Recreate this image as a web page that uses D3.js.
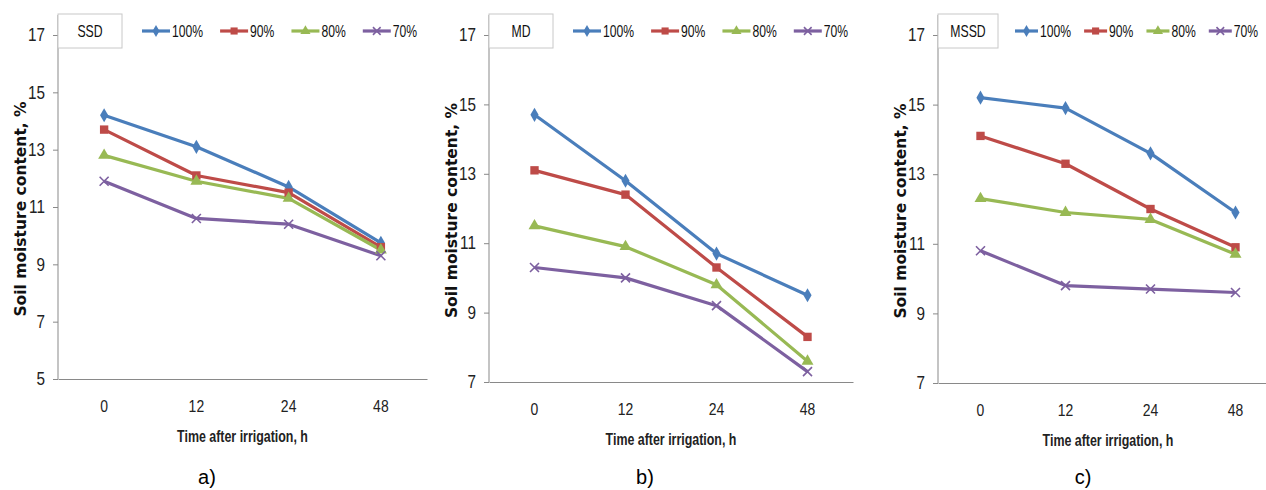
<!DOCTYPE html>
<html lang="en">
  <head>
    <meta charset="utf-8">
    <script src="https://d3js.org/d3.v7.min.js"></script>
    <style>
      body { margin: 0; background: #fff; }
      svg { display: block; }
    </style>
  </head>
  <body>
    <svg width="1266" height="490"></svg>
    <script>
      // categories and series
      var hours = ["0", "12", "24", "48"];
      var seriesNames = ["100%", "90%", "80%", "70%"];
      var panelNames = ["SSD", "MD", "MSSD"];
      var panelTags = ["a)", "b)", "c)"];

      // a) SSD
      var ssd100 = [14.2, 13.1, 11.7, 9.75];
      var ssd90 = [13.7, 12.1, 11.5, 9.6];
      var ssd80 = [12.8, 11.9, 11.3, 9.5];
      var ssd70 = [11.9, 10.6, 10.4, 9.3];
      // b) MD
      var md100 = [14.7, 12.8, 10.7, 9.5];
      var md90 = [13.1, 12.4, 10.3, 8.3];
      var md80 = [11.5, 10.9, 9.8, 7.6];
      var md70 = [10.3, 10.0, 9.2, 7.3];
      // c) MSSD
      var mssd100 = [15.2, 14.9, 13.6, 11.9];
      var mssd90 = [14.1, 13.3, 12.0, 10.9];
      var mssd80 = [12.3, 11.9, 11.7, 10.7];
      var mssd70 = [10.8, 9.8, 9.7, 9.6];

      var yMins = [5, 7, 7];
      var yMax = 17;

      var colors = ["#4a7ebb", "#be4b48", "#98b954", "#7d60a0"];
      var shapes = ["diamond", "square", "triangle", "cross"];

      // plot boxes of the three panels
      var layouts = [
        {left: 58, right: 427, top: 35, bottom: 379, boxW: 64, keyStart: 20, keyLine: 28, keyGap: 17, tagX: 207},
        {left: 489, right: 853, top: 35, bottom: 382, boxW: 64, keyStart: 20, keyLine: 28, keyGap: 17, tagX: 645},
        {left: 938, right: 1278, top: 35, bottom: 383, boxW: 60, keyStart: 17, keyLine: 23, keyGap: 13, tagX: 1083}
      ];

      var panels = [
        [ssd100, ssd90, ssd80, ssd70],
        [md100, md90, md80, md70],
        [mssd100, mssd90, mssd80, mssd70]
      ];

      var sans = "'Liberation Sans', Arial, sans-serif";
      var axisGrey = "#898989";

      var svg = d3.select("svg");

      // narrow the type a bit, the original uses a condensed face
      function squeeze(sel, k) {
        sel.each(function() {
          var w = this.getComputedTextLength();
          d3.select(this)
            .attr("textLength", w * k)
            .attr("lengthAdjust", "spacingAndGlyphs");
        });
      }

      function marker(g, shape, color, cx, cy, s) {
        if (shape == "cross") {
          var h = 4.5 * s;
          g.append("path")
            .attr("d", "M" + (cx - h) + "," + (cy - h) + "L" + (cx + h) + "," + (cy + h) +
                       "M" + (cx - h) + "," + (cy + h) + "L" + (cx + h) + "," + (cy - h))
            .attr("stroke", color)
            .attr("stroke-width", 1.6)
            .attr("fill", "none");
          return;
        }
        var type = shape == "diamond" ? d3.symbolDiamond
                 : shape == "square" ? d3.symbolSquare : d3.symbolTriangle;
        var size = shape == "diamond" ? 58 : shape == "square" ? 70 : 62;
        g.append("path")
          .attr("d", d3.symbol().type(type).size(size * s * s)())
          .attr("transform", "translate(" + cx + "," + cy + ")")
          .attr("fill", color);
      }

      panels.forEach(function(series, p) {
        var L = layouts[p];
        var g = svg.append("g");

        var x = d3.scaleBand()
          .domain(hours)
          .range([L.left, L.right]);

        var y = d3.scaleLinear()
          .domain([yMins[p], yMax])
          .range([L.bottom, L.top]);

        // y axis
        var yAxis = g.append("g")
          .attr("transform", "translate(" + L.left + ",0)")
          .call(d3.axisLeft(y)
            .tickValues(d3.range(yMins[p], yMax + 1, 2))
            .tickSize(5)
            .tickSizeOuter(0)
            .tickPadding(8));
        yAxis.select(".domain").remove();
        yAxis.selectAll(".tick line").attr("stroke", axisGrey);
        yAxis.selectAll(".tick text")
          .style("font-family", sans)
          .style("font-size", "18px")
          .attr("fill", "#222")
          .call(squeeze, 0.85);
        g.append("line")
          .attr("x1", L.left).attr("x2", L.left)
          .attr("y1", L.top - 20).attr("y2", L.bottom)
          .attr("stroke", axisGrey);

        // x axis
        var xAxis = g.append("g")
          .attr("transform", "translate(0," + L.bottom + ")")
          .call(d3.axisBottom(x)
            .tickSize(0)
            .tickSizeOuter(0)
            .tickPadding(21));
        xAxis.select(".domain").attr("stroke", axisGrey);
        xAxis.selectAll(".tick text")
          .style("font-family", sans)
          .style("font-size", "17px")
          .attr("fill", "#222")
          .call(squeeze, 0.82);

        // axis titles
        g.append("text")
          .attr("x", (L.left + L.right) / 2)
          .attr("y", L.bottom + 63)
          .attr("text-anchor", "middle")
          .style("font-family", sans)
          .style("font-size", "17px")
          .style("font-weight", "bold")
          .attr("fill", "#222")
          .text("Time after irrigation, h")
          .call(squeeze, 0.73);

        g.append("text")
          .attr("transform", "translate(" + (L.left - 32) + "," + ((L.top + L.bottom) / 2 + 2) + ") rotate(-90)")
          .attr("text-anchor", "middle")
          .style("font-family", "'DejaVu Sans', Verdana, sans-serif")
          .style("font-size", "15.5px")
          .style("font-weight", "bold")
          .attr("fill", "#111")
          .text("Soil moisture content, %");

        // lines and markers
        var line = d3.line()
          .x(function(d, i) { return x(hours[i]) + x.bandwidth() / 2; })
          .y(function(d) { return y(d); });

        series.forEach(function(vals, s) {
          g.append("path")
            .datum(vals)
            .attr("d", line)
            .attr("fill", "none")
            .attr("stroke", colors[s])
            .attr("stroke-width", 3.2)
            .attr("stroke-linejoin", "round");
        });
        series.forEach(function(vals, s) {
          vals.forEach(function(v, i) {
            marker(g, shapes[s], colors[s], x(hours[i]) + x.bandwidth() / 2, y(v), 1);
          });
        });

        // panel name box
        g.append("rect")
          .attr("x", L.left)
          .attr("y", 14)
          .attr("width", L.boxW)
          .attr("height", 34)
          .attr("fill", "#fff")
          .attr("stroke", "#c8c8c8");
        g.append("text")
          .attr("x", L.left + L.boxW / 2)
          .attr("y", 31)
          .attr("dy", "0.35em")
          .attr("text-anchor", "middle")
          .style("font-family", sans)
          .style("font-size", "17px")
          .attr("fill", "#111")
          .text(panelNames[p])
          .call(squeeze, 0.72);

        // legend
        var lx = L.left + L.boxW + L.keyStart;
        seriesNames.forEach(function(name, s) {
          g.append("line")
            .attr("x1", lx).attr("x2", lx + L.keyLine)
            .attr("y1", 31).attr("y2", 31)
            .attr("stroke", colors[s])
            .attr("stroke-width", 3.2);
          marker(g, shapes[s], colors[s], lx + L.keyLine / 2, 31, 0.85);
          var t = g.append("text")
            .attr("x", lx + L.keyLine + 2)
            .attr("y", 31)
            .attr("dy", "0.35em")
            .style("font-family", sans)
            .style("font-size", "16px")
            .attr("fill", "#111")
            .text(name);
          var w = t.node().getComputedTextLength() * 0.76;
          t.call(squeeze, 0.76);
          lx += L.keyLine + 2 + w + L.keyGap;
        });

        // panel tag
        g.append("text")
          .attr("x", L.tagX)
          .attr("y", 484)
          .attr("text-anchor", "middle")
          .style("font-family", sans)
          .style("font-size", "20px")
          .attr("fill", "#000")
          .text(panelTags[p]);
      });
    </script>
  </body>
</html>
